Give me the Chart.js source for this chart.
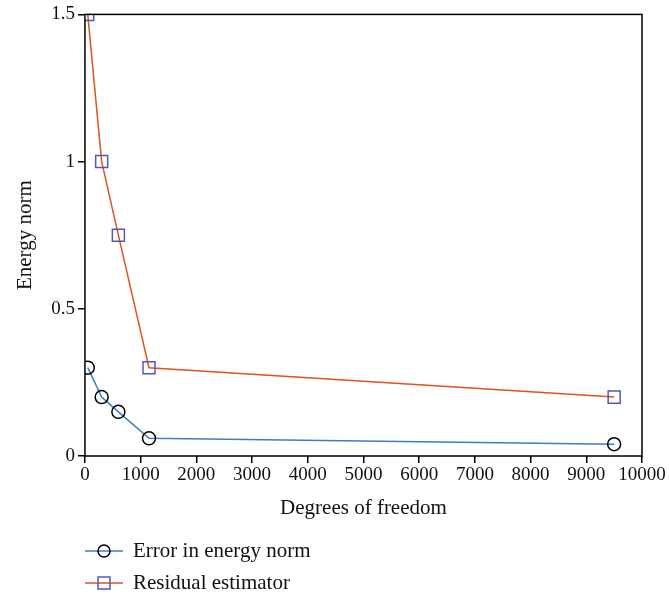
<!DOCTYPE html>
<html>
<head>
	<title>Energy norm</title>
	<script src="https://cdn.jsdelivr.net/npm/chart.js"></script>
	<style>
		body { margin: 0; background: #fff; }
	</style>
</head>
<body>
	<canvas id="chart" width="669" height="597"></canvas>
	<script>
	// data
	var dofs = [50, 300, 600, 1150, 9500];
	var errorNorm = [0.3, 0.2, 0.15, 0.06, 0.04];
	var residualEst = [1.5, 1.0, 0.75, 0.3, 0.2];
	var seriesNames = ["Error in energy norm", "Residual estimator"];
	var xTicks = [0, 1000, 2000, 3000, 4000, 5000, 6000, 7000, 8000, 9000, 10000];
	var yTicks = [0, 0.5, 1, 1.5];

	var serif = "'Liberation Serif', 'DejaVu Serif', serif";

	function pts(ys) {
		return dofs.map(function (x, i) { return { x: x, y: ys[i] }; });
	}

	// frame around the plot area (top and right sides too)
	var frame = {
		id: 'frame',
		afterDatasetsDraw: function (chart) {
			var a = chart.chartArea, c = chart.ctx;
			c.save();
			c.strokeStyle = '#000';
			c.lineWidth = 1.5;
			c.strokeRect(a.left, a.top, a.right - a.left, a.bottom - a.top);
			c.restore();
		}
	};

	// legend below the x axis title, line + marker like the original
	var legendBelow = {
		id: 'legendBelow',
		afterDraw: function (chart) {
			var c = chart.ctx;
			var x0 = 85, y0 = 551, gap = 32;
			chart.data.datasets.forEach(function (ds, i) {
				var y = y0 + i * gap;
				c.save();
				c.strokeStyle = ds.borderColor;
				c.lineWidth = 1.5;
				c.beginPath();
				c.moveTo(x0, y);
				c.lineTo(x0 + 38, y);
				c.stroke();
				c.strokeStyle = ds.pointBorderColor;
				c.lineWidth = 1.5;
				c.beginPath();
				if (ds.pointStyle === 'rect') {
					c.rect(x0 + 13, y - 6, 12, 12);
				} else {
					c.arc(x0 + 19, y, 6, 0, Math.PI * 2);
				}
				c.stroke();
				c.fillStyle = '#111';
				c.font = '21px ' + serif;
				c.textBaseline = 'middle';
				c.fillText(ds.label, x0 + 48, y);
				c.restore();
			});
		}
	};

	new Chart(document.getElementById('chart').getContext('2d'), {
		type: 'line',
		data: {
			datasets: [{
				label: seriesNames[0],
				data: pts(errorNorm),
				borderColor: '#3b7cc6',
				borderWidth: 1.5,
				pointStyle: 'circle',
				pointRadius: 6.5,
				pointBorderColor: '#000',
				pointBackgroundColor: 'rgba(0,0,0,0)',
				pointBorderWidth: 1.5,
				tension: 0
			}, {
				label: seriesNames[1],
				data: pts(residualEst),
				borderColor: '#e0531f',
				borderWidth: 1.5,
				pointStyle: 'rect',
				pointRadius: 8.5,
				pointBorderColor: '#5656b8',
				pointBackgroundColor: 'rgba(0,0,0,0)',
				pointBorderWidth: 1.5,
				tension: 0
			}]
		},
		options: {
			responsive: false,
			animation: false,
			layout: { padding: { top: 8, right: 27, bottom: 72, left: 9 } },
			plugins: {
				legend: { display: false },
				tooltip: { enabled: false }
			},
			scales: {
				x: {
					type: 'linear',
					min: 0,
					max: 10000,
					afterBuildTicks: function (axis) {
						axis.ticks = xTicks.map(function (v) { return { value: v }; });
					},
					ticks: {
						color: '#111',
						font: { family: serif, size: 19 },
						maxRotation: 0,
						autoSkip: false,
						padding: 1,
						callback: function (v) { return String(v); }
					},
					grid: {
						drawOnChartArea: false,
						drawTicks: true,
						tickLength: 7,
						color: '#000',
						lineWidth: 1.5
					},
					border: { display: false },
					title: {
						display: true,
						text: 'Degrees of freedom',
						color: '#111',
						font: { family: serif, size: 21 },
						padding: { top: 8 }
					}
				},
				y: {
					type: 'linear',
					min: 0,
					max: 1.5,
					afterBuildTicks: function (axis) {
						axis.ticks = yTicks.map(function (v) { return { value: v }; });
					},
					ticks: {
						color: '#111',
						font: { family: serif, size: 19 },
						padding: 3,
						callback: function (v) { return String(v); }
					},
					grid: {
						drawOnChartArea: false,
						drawTicks: true,
						tickLength: 7,
						color: '#000',
						lineWidth: 1.5
					},
					border: { display: false },
					title: {
						display: true,
						text: 'Energy norm',
						color: '#111',
						font: { family: serif, size: 21 },
						padding: { bottom: 10 }
					}
				}
			}
		},
		plugins: [frame, legendBelow]
	});
	</script>
</body>
</html>
